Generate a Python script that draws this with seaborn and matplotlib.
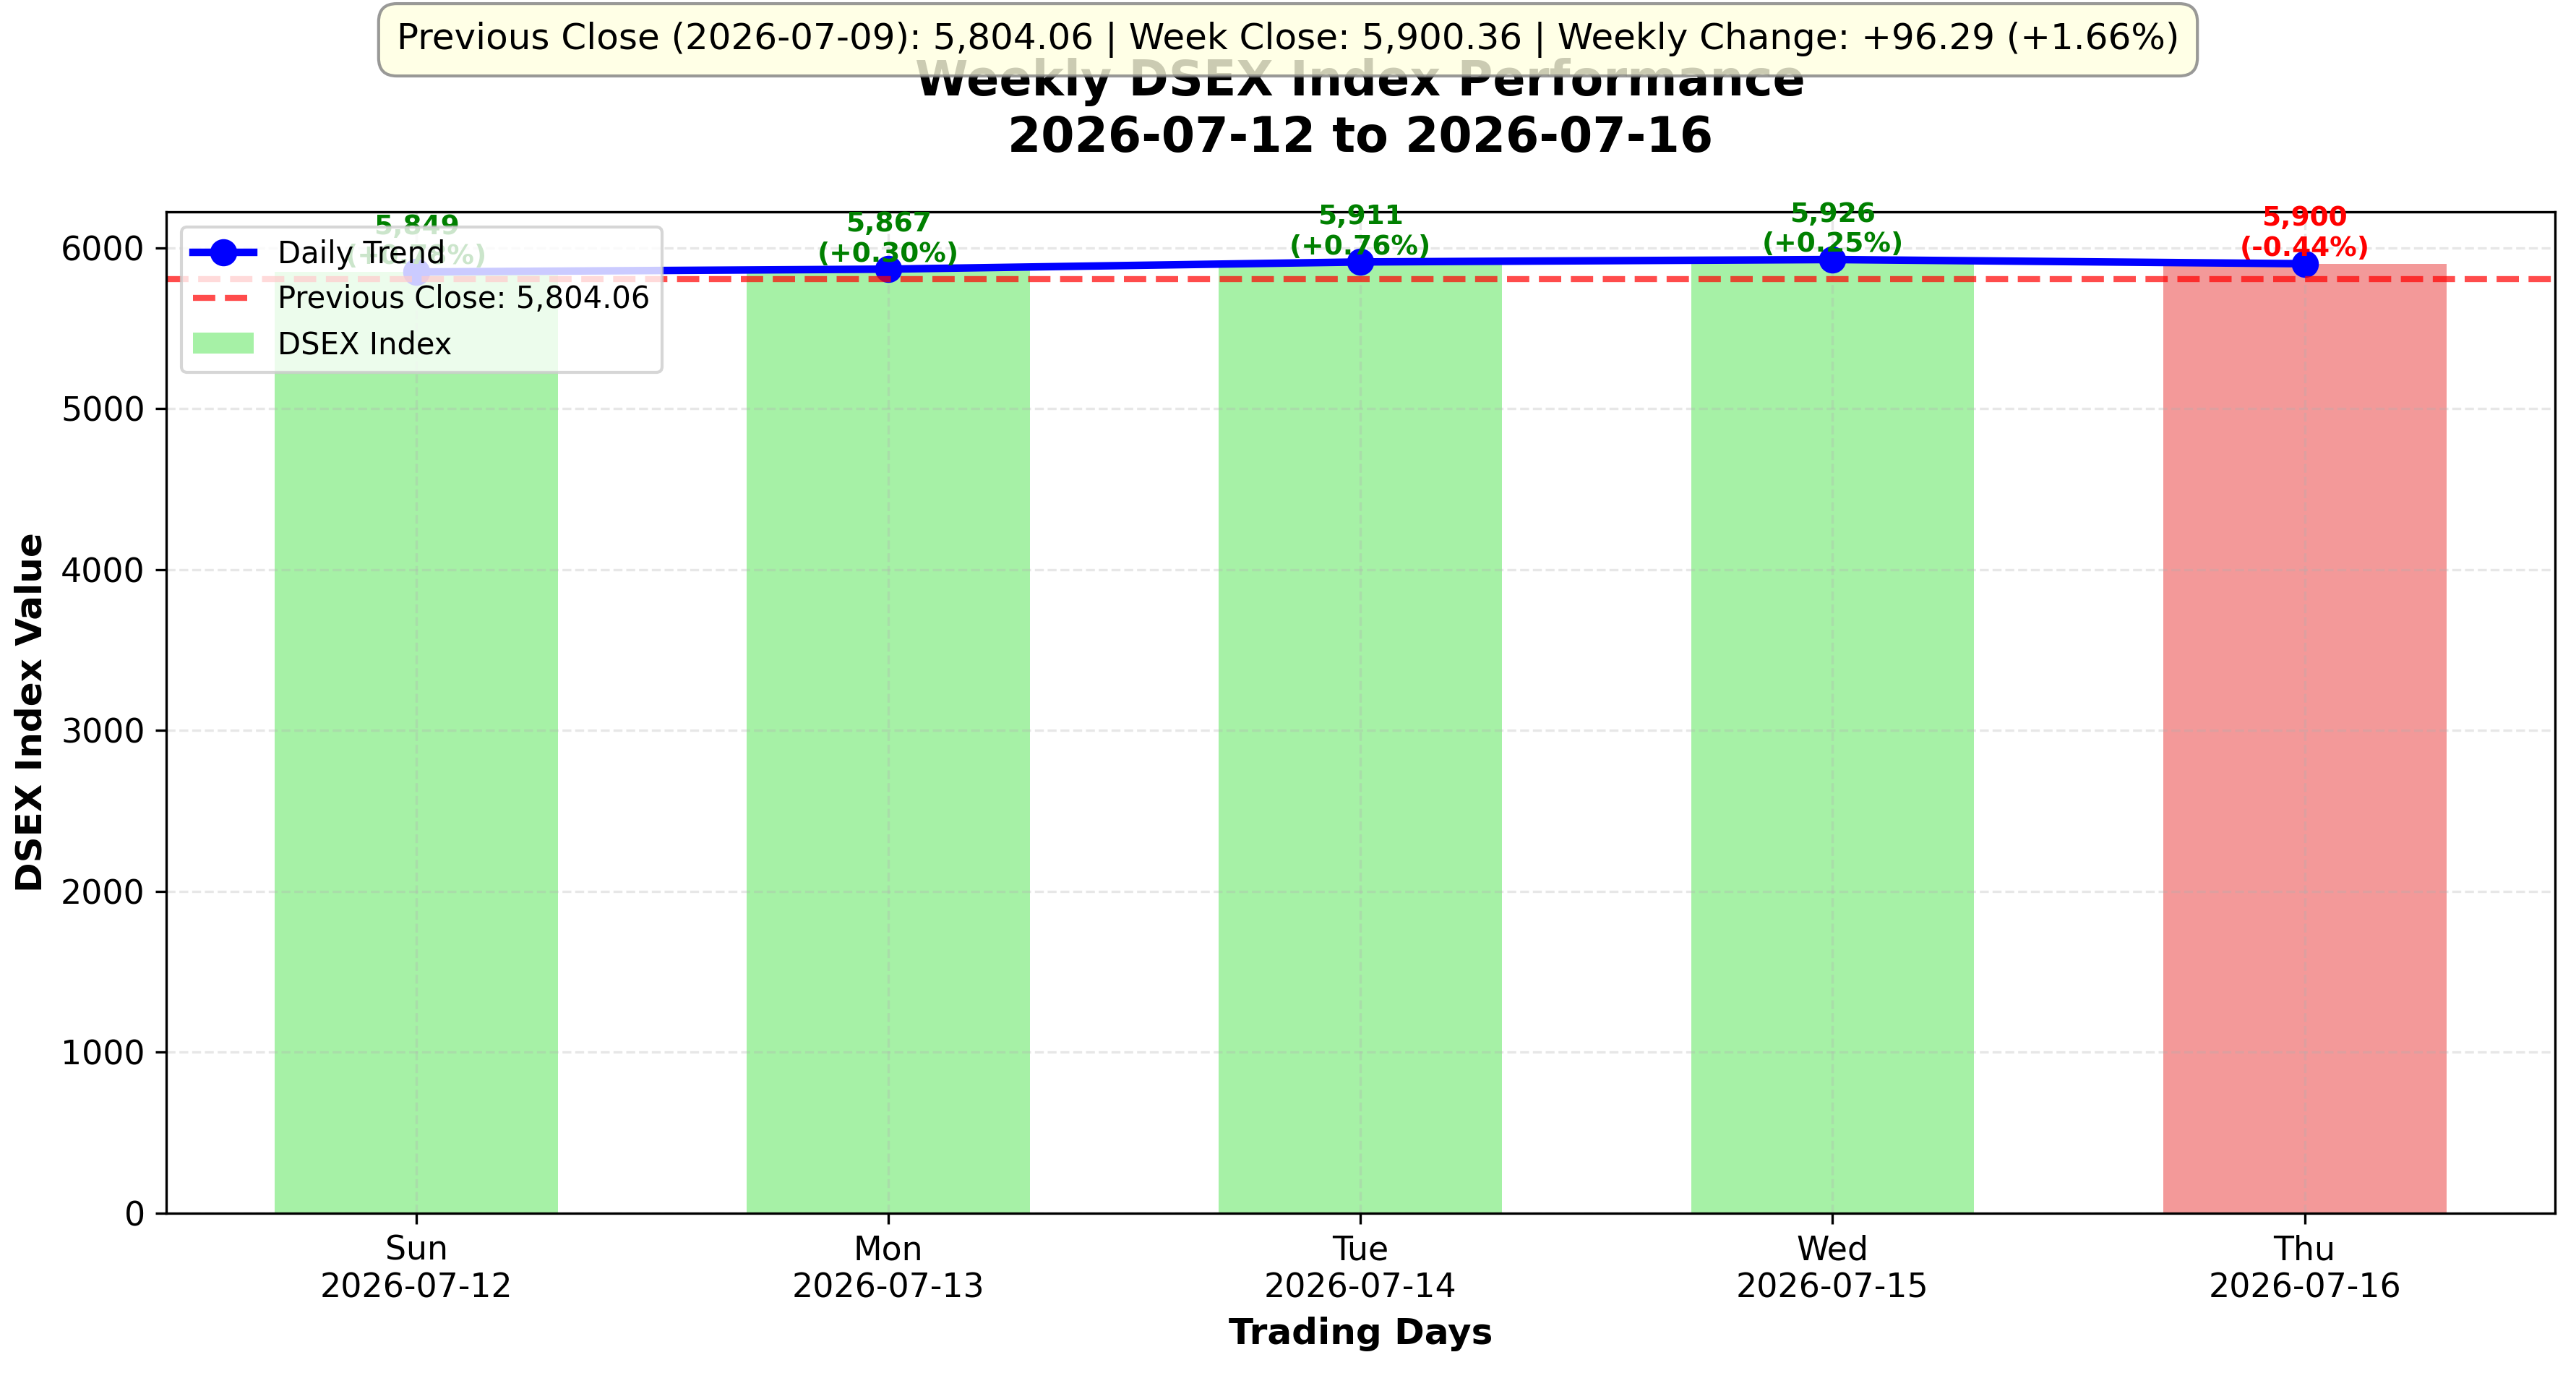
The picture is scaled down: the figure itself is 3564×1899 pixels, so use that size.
import matplotlib
matplotlib.use('Agg')
import matplotlib.pyplot as plt
import numpy as np
import pandas as pd

import seaborn as sns

PREV_DATE = '2026-07-09'
PREV_CLOSE = 5804.064

days = ['Sun', 'Mon', 'Tue', 'Wed', 'Thu']
dates = ['2026-07-12', '2026-07-13', '2026-07-14', '2026-07-15', '2026-07-16']
closes = [5849.2, 5866.8, 5911.4, 5926.4, 5900.357]


def build_frame():
    df = pd.DataFrame({'Day': days, 'Date': dates, 'Close': closes})
    df['Label'] = df['Day'] + '\n' + df['Date']
    prev = [PREV_CLOSE] + closes[:-1]
    df['Change'] = (df['Close'] - np.array(prev)) / np.array(prev) * 100
    df['Up'] = df['Change'] >= 0
    return df


def plot_week(df):
    fig, ax = plt.subplots(figsize=(11.88, 6.33), dpi=300)
    fig.subplots_adjust(left=0.0645, right=0.9918, top=0.8457, bottom=0.1164)

    colors = {lab: ('lightgreen' if up else 'lightcoral')
              for lab, up in zip(df['Label'], df['Up'])}

    # bars for each trading day
    sns.barplot(data=df, x='Label', y='Close', hue='Label', palette=colors,
                width=0.6, alpha=0.8, legend=False, saturation=1, ax=ax)

    x = np.arange(len(df))
    trend, = ax.plot(x, df['Close'], color='blue', marker='o', linewidth=2.5,
                     markersize=8, label='Daily Trend')
    prev_line = ax.axhline(PREV_CLOSE, color='red', linestyle='--', linewidth=2,
                           alpha=0.7, label=f'Previous Close: {PREV_CLOSE:,.2f}')

    for i, row in df.iterrows():
        c = 'green' if row['Up'] else 'red'
        ax.text(i, row['Close'] + 12, f"{row['Close']:,.0f}\n({row['Change']:+.2f}%)",
                ha='center', va='bottom', fontsize=9, fontweight='bold', color=c)

    ax.set_ylim(0, max(closes) * 1.05)
    ax.grid(True, linestyle='--', alpha=0.3)
    ax.tick_params(labelsize=11)
    ax.set_xlabel('Trading Days', fontsize=12, fontweight='bold')
    ax.set_ylabel('DSEX Index Value', fontsize=12, fontweight='bold')
    ax.set_title(f'Weekly DSEX Index Performance\n{dates[0]} to {dates[-1]}',
                 fontsize=16, fontweight='bold', pad=20)

    bar_handle = ax.patches[0]
    ax.legend([trend, prev_line, bar_handle],
              ['Daily Trend', f'Previous Close: {PREV_CLOSE:,.2f}', 'DSEX Index'],
              loc='upper left', fontsize=10)

    week_close = closes[-1]
    chg = week_close - PREV_CLOSE
    pct = chg / PREV_CLOSE * 100
    summary = (f'Previous Close ({PREV_DATE}): {PREV_CLOSE:,.2f} | '
               f'Week Close: {week_close:,.2f} | '
               f'Weekly Change: {chg:+.2f} ({pct:+.2f}%)')
    fig.text(0.5, 0.971, summary, ha='center', va='center', fontsize=12,
             bbox=dict(boxstyle='round,pad=0.5', facecolor='lightyellow',
                       edgecolor='gray', alpha=0.8))

    fig.savefig('out.png', dpi=300)
    plt.close(fig)


if __name__ == '__main__':
    plot_week(build_frame())
